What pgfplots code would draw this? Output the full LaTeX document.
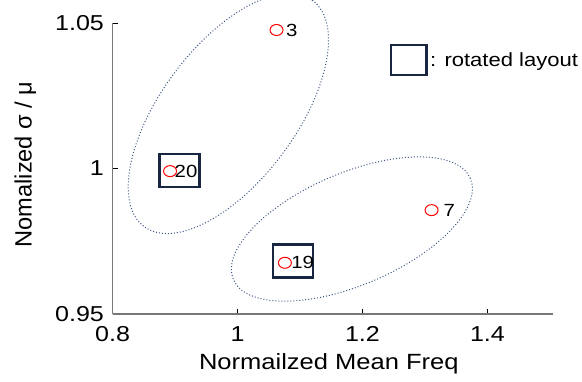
\documentclass[border=0pt]{standalone}
\usepackage{fontspec}
\setmainfont{Liberation Sans}[FakeStretch=1.16]
\newfontfamily\ylabfont{Liberation Sans}
\usepackage{pgfplots}
\pgfplotsset{compat=1.18}
\definecolor{navy}{RGB}{24,38,66}
\definecolor{ellblue}{RGB}{60,85,130}
\definecolor{axgray}{RGB}{120,120,120}

\begin{document}
\begin{tikzpicture}
\useasboundingbox (-56.3pt,-33.5pt) rectangle (234.7pt,157pt);
\begin{axis}[
  scale only axis, width=220.2pt, height=145.5pt,
  xmin=0.8, xmax=1.505, ymin=0.95, ymax=1.05,
  axis x line*=bottom, axis y line*=left,
  axis line style={axgray, line width=0.8pt},
  xtick={0.8,1,1.2,1.4}, ytick={0.95,1,1.05},
  tick align=inside, major tick length=2.5pt,
  tick style={black, line width=0.4pt},
  /pgf/number format/assume math mode=true,
  ticklabel style={font=\fontsize{10.8}{12}\selectfont},
  yticklabel style={xshift=-0.8pt},
  xticklabel style={yshift=-2.6pt},
  clip=false,
  xlabel={Normailzed Mean Freq},
  ylabel={Nomalized σ / μ},
  every axis x label/.style={at={(axis description cs:0.491,-0.1924)}, anchor=base, font=\fontsize{11}{13}\selectfont},
  every axis y label/.style={at={(axis description cs:-0.184,0.514)}, rotate=90, anchor=base, font=\ylabfont\fontsize{11.8}{14}\selectfont},
]
\draw[ellblue, densely dotted, line width=0.5pt, rotate around={53.3:(axis cs:0.9853,1.0189)}] (axis cs:0.9853,1.0189) ellipse [x radius=70.5pt, y radius=33.75pt];
\draw[ellblue, densely dotted, line width=0.5pt, rotate around={23.1:(axis cs:1.183,0.9792)}] (axis cs:1.183,0.9792) ellipse [x radius=64.4pt, y radius=28pt];

\addplot[only marks, mark=square, mark size=8.25pt, mark options={xscale=1.21, line width=1.25pt, draw=navy, fill=none}] coordinates {(0.9074,0.9994) (1.0886,0.9683)};
\addplot[only marks, mark=square, mark size=7.4pt, mark options={xscale=1.19, line width=1.25pt, draw=navy, fill=none}] coordinates {(1.274,1.0373)};

\addplot[only marks, mark=o, red, mark size=2.75pt, mark options={xscale=1.18, line width=0.5pt}] table {
x y
1.0624 1.0476
0.892 0.9991
1.3106 0.9857
1.0758 0.9676
};

\addplot[draw=none, mark=none, nodes near coords, point meta=explicit symbolic,
  nodes near coords style={anchor=west, inner sep=0pt, font=\fontsize{8.8}{10}\selectfont, black}] table[meta=label] {
x y label
1.077 1.0476 3
0.8987 0.9991 20
1.3291 0.9857 7
1.0854 0.9676 19
};

\node[anchor=base west, inner sep=0pt, font=\fontsize{9.5}{11}\selectfont] at (axis cs:1.3078,1.0349) {: rotated layout};
\end{axis}
\end{tikzpicture}
\end{document}
